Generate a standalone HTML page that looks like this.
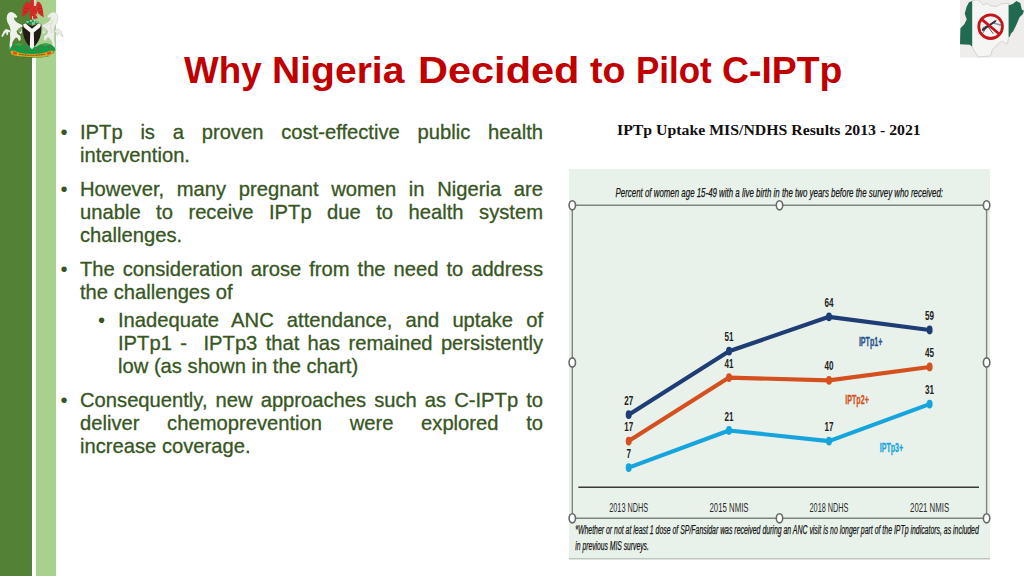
<!DOCTYPE html>
<html>
<head>
<meta charset="utf-8">
<title>Why Nigeria Decided to Pilot C-IPTp</title>
<style>
html,body{margin:0;padding:0;}
body{width:1024px;height:576px;position:relative;overflow:hidden;background:#fff;font-family:"Liberation Sans",sans-serif;}
.abs{position:absolute;}
#barL{left:0;top:0;width:32px;height:576px;background:#538135;}
#barR{left:36px;top:0;width:20px;height:576px;background:#a9d18e;}
.tw{top:48.5px;transform-origin:0 50%;height:44px;line-height:44px;font-size:36px;font-weight:bold;color:#c00000;white-space:nowrap;}
.ln{-webkit-text-stroke:0.3px #375623;position:absolute;left:80px;width:463px;height:24px;line-height:24px;font-size:20.2px;color:#375623;white-space:nowrap;text-align:justify;text-align-last:justify;}
.ln.last{text-align:left;text-align-last:left;}
.ln.sub{left:118px;width:425px;}
.bul{position:absolute;margin-left:1.5px;font-size:20.2px;line-height:24px;height:24px;color:#375623;}
#ctitle{left:617.3px;top:120px;height:20px;line-height:20px;font-family:"Liberation Serif",serif;font-weight:bold;font-size:14.4px;color:#111;white-space:nowrap;transform-origin:0 50%;transform:scaleX(1.098);}
</style>
</head>
<body>
<div class="abs" id="barL"></div>
<div class="abs" id="barR"></div>

<!--T0--><div class="abs tw" style="left:184.00px;transform:scaleX(1.0212)">Why</div><div class="abs tw" style="left:272.00px;transform:scaleX(1.0850)">Nigeria</div><div class="abs tw" style="left:417.50px;transform:scaleX(1.1526)">Decided</div><div class="abs tw" style="left:590.00px;transform:scaleX(1.0443)">to</div><div class="abs tw" style="left:635.50px;transform:scaleX(0.9707)">Pilot</div><div class="abs tw" style="left:721.50px;transform:scaleX(1.0370)">C-IPTp</div><!--T1-->

<div class="bul" style="left:59px;top:120px;">&#8226;</div>
<div class="ln" style="top:120px;">IPTp is a proven cost-effective public health</div>
<div class="ln last" style="top:143px;">intervention.</div>

<div class="bul" style="left:59px;top:177px;">&#8226;</div>
<div class="ln" style="top:177px;">However, many pregnant women in Nigeria are</div>
<div class="ln" style="top:200px;">unable to receive IPTp due to health system</div>
<div class="ln last" style="top:223px;">challenges.</div>

<div class="bul" style="left:59px;top:256.5px;">&#8226;</div>
<div class="ln" style="top:256.5px;">The consideration arose from the need to address</div>
<div class="ln last" style="top:279.5px;">the challenges of</div>

<div class="bul" style="left:96.5px;top:308px;">&#8226;</div>
<div class="ln sub" style="top:308px;">Inadequate ANC attendance, and uptake of</div>
<div class="ln sub" style="top:331px;">IPTp1 - &nbsp;IPTp3 that has remained persistently</div>
<div class="ln sub last" style="top:354px;">low (as shown in the chart)</div>

<div class="bul" style="left:59px;top:388px;">&#8226;</div>
<div class="ln" style="top:388px;">Consequently, new approaches such as C-IPTp to</div>
<div class="ln" style="top:411px;">deliver chemoprevention were explored to</div>
<div class="ln last" style="top:433.8px;">increase coverage.</div>

<div class="abs" id="ctitle">IPTp Uptake MIS/NDHS Results 2013 - 2021</div>

<!--CHART_START-->
<svg class="abs" style="left:0;top:0" width="1024" height="576" viewBox="0 0 1024 576" font-family="Liberation Sans, sans-serif">
<rect x="569" y="169" width="421" height="390" fill="#e9f2ea"/>
<rect x="569" y="558" width="421" height="1.5" fill="#bfc5bf"/>
<g fill="none" stroke="#7f847f" stroke-width="1.4"><path d="M572.3 205.3H986.6V518.3H572.3Z"/></g>
<path d="M578.3 487.2H979" stroke="#3a3a3a" stroke-width="1.5" fill="none"/>
<polyline points="628.7,467.6 729,430.5 829,441.1 929.6,404.1" fill="none" stroke="#16a4dc" stroke-width="4.2" stroke-linejoin="round" stroke-linecap="round"/>
<ellipse cx="628.7" cy="467.6" rx="3" ry="4.4" fill="#16a4dc"/>
<ellipse cx="729" cy="430.5" rx="3" ry="4.4" fill="#16a4dc"/>
<ellipse cx="829" cy="441.1" rx="3" ry="4.4" fill="#16a4dc"/>
<ellipse cx="929.6" cy="404.1" rx="3" ry="4.4" fill="#16a4dc"/>
<polyline points="628.7,441.1 729,377.6 829,380.3 929.6,367.0" fill="none" stroke="#d5501f" stroke-width="4.2" stroke-linejoin="round" stroke-linecap="round"/>
<ellipse cx="628.7" cy="441.1" rx="3" ry="4.4" fill="#d5501f"/>
<ellipse cx="729" cy="377.6" rx="3" ry="4.4" fill="#d5501f"/>
<ellipse cx="829" cy="380.3" rx="3" ry="4.4" fill="#d5501f"/>
<ellipse cx="929.6" cy="367.0" rx="3" ry="4.4" fill="#d5501f"/>
<polyline points="628.7,414.7 729,351.2 829,316.8 929.6,330.0" fill="none" stroke="#1e3d75" stroke-width="4.2" stroke-linejoin="round" stroke-linecap="round"/>
<ellipse cx="628.7" cy="414.7" rx="3" ry="4.4" fill="#1e3d75"/>
<ellipse cx="729" cy="351.2" rx="3" ry="4.4" fill="#1e3d75"/>
<ellipse cx="829" cy="316.8" rx="3" ry="4.4" fill="#1e3d75"/>
<ellipse cx="929.6" cy="330.0" rx="3" ry="4.4" fill="#1e3d75"/>
<g font-size="13.5" font-weight="bold" fill="#222" text-anchor="middle">
<text x="628.7" y="404.7" textLength="9" lengthAdjust="spacingAndGlyphs">27</text>
<text x="729" y="341.2" textLength="9" lengthAdjust="spacingAndGlyphs">51</text>
<text x="829" y="306.8" textLength="9" lengthAdjust="spacingAndGlyphs">64</text>
<text x="929.6" y="320.0" textLength="9" lengthAdjust="spacingAndGlyphs">59</text>
<text x="628.7" y="431.1" textLength="9" lengthAdjust="spacingAndGlyphs">17</text>
<text x="729" y="367.6" textLength="9" lengthAdjust="spacingAndGlyphs">41</text>
<text x="829" y="370.3" textLength="9" lengthAdjust="spacingAndGlyphs">40</text>
<text x="929.6" y="357.0" textLength="9" lengthAdjust="spacingAndGlyphs">45</text>
<text x="628.7" y="457.6" textLength="4.5" lengthAdjust="spacingAndGlyphs">7</text>
<text x="729" y="420.5" textLength="9" lengthAdjust="spacingAndGlyphs">21</text>
<text x="829" y="431.1" textLength="9" lengthAdjust="spacingAndGlyphs">17</text>
<text x="929.6" y="394.1" textLength="9" lengthAdjust="spacingAndGlyphs">31</text>
</g>
<g font-size="13" font-weight="bold" stroke-width="0.3">
<text x="858.9" y="345.5" fill="#2a4f90" stroke="#2a4f90" textLength="23.5" lengthAdjust="spacingAndGlyphs">IPTp1+</text>
<text x="845.3" y="404" fill="#d5501f" stroke="#d5501f" textLength="23.5" lengthAdjust="spacingAndGlyphs">IPTp2+</text>
<text x="879.7" y="452" fill="#16a4dc" stroke="#16a4dc" textLength="23.5" lengthAdjust="spacingAndGlyphs">IPTp3+</text>
</g>
<g font-size="12.5" fill="#2a2a2a" text-anchor="middle">
<text x="628.7" y="511.5" textLength="39" lengthAdjust="spacingAndGlyphs">2013 NDHS</text>
<text x="729" y="511.5" textLength="39" lengthAdjust="spacingAndGlyphs">2015 NMIS</text>
<text x="829" y="511.5" textLength="39" lengthAdjust="spacingAndGlyphs">2018 NDHS</text>
<text x="929.6" y="511.5" textLength="39" lengthAdjust="spacingAndGlyphs">2021 NMIS</text>
</g>
<g font-style="italic" fill="#151515" stroke="#151515" stroke-width="0.25">
<text x="615.5" y="196.5" font-size="13" textLength="327.5" lengthAdjust="spacingAndGlyphs">Percent of women age 15-49 with a live birth in the two years before the survey who received:</text>
<text x="575.3" y="534" font-size="12" textLength="403.5" lengthAdjust="spacingAndGlyphs">*Whether or not at least 1 dose of SP/Fansidar was received during an ANC visit is no longer part of the IPTp indicators, as included</text>
<text x="575.3" y="550" font-size="12" textLength="73.5" lengthAdjust="spacingAndGlyphs">in previous MIS surveys.</text>
</g>
<g fill="#fff" stroke="#666a66" stroke-width="1.6">
<ellipse cx="572.3" cy="205.3" rx="3.2" ry="4.6"/>
<ellipse cx="779.5" cy="205.3" rx="3.2" ry="4.6"/>
<ellipse cx="986.6" cy="205.3" rx="3.2" ry="4.6"/>
<ellipse cx="572.3" cy="362.5" rx="3.2" ry="4.6"/>
<ellipse cx="986.6" cy="362.5" rx="3.2" ry="4.6"/>
<ellipse cx="572.3" cy="518.3" rx="3.2" ry="4.6"/>
<ellipse cx="779.5" cy="518.3" rx="3.2" ry="4.6"/>
<ellipse cx="986.6" cy="518.3" rx="3.2" ry="4.6"/>
</g>
</svg>
<!--CHART_END-->
<!--ARMS_START-->
<div class="abs" style="left:32px;top:0;width:4px;height:57px;background:#8dba6c"></div>
<svg class="abs" style="left:0;top:0" width="68" height="62" viewBox="0 0 68 62">
<defs>
<g id="horse">
<path d="M10.8 12 L13 12.4 L15.5 14.200 L17.300 16.600 L16.300 18 L13.800 17.300 L14.500 20 L17 22.500 L20 24 L22.600 25.200 L22.600 27 L20 27.200 L21.800 29 L22 32.500 L20.500 34 L19 32 L18.200 29.500 L16.500 31 L17.500 34 L20.500 36 L20.700 40 L19 41 L17.500 38 L16 37.500 L14.500 39 L12.500 42 L12 46 L12.200 49.500 L9.800 49.500 L9.600 44 L10.200 39 L10 34 L10.500 30 L9.500 26 L7.500 22.500 L6.600 18.500 L7.200 15 L8.800 12.800 Z"/>
<path d="M9.800 30.300 L7 29.300 L5.400 29.200 L3.500 31.500 L1.300 36.200 L2.600 36.900 L4.800 33.500 L6 32.300 L6.700 35.400 L8 34.600 L8.300 32 L10.200 32.600 Z"/>
</g>
</defs>
<!-- eagle -->
<g fill="#d12b26">
<path d="M27.500 1.500 L25.500 2.800 L23.800 5 L22.500 9.500 L21.800 16.400 L24.500 15.500 L27 13.500 L29 10.500 L29.600 6 L28.800 2.200 Z"/>
<path d="M38 1.500 L40 2.800 L41.600 5 L42.900 10 L43.700 17.200 L41 15.800 L38.500 13.500 L36.800 10.500 L36.200 6 L37 2.200 Z"/>
<path d="M29 5.500 L31 0 L34.200 0 L36.500 5.500 L37 12 L37.600 18.600 L30 18.900 L29.500 12 Z"/>
</g>
<path d="M24 8 L28.500 8.500 M24 11.500 L27.500 12 M37.500 8.500 L42 8.500 M38.500 12 L42 12" stroke="#b01f1b" stroke-width="0.7" fill="none"/>
<rect x="33.900" y="0" width="2" height="6" fill="#f3dcd6"/>
<rect x="32" y="16" width="1.100" height="3" fill="#f0c8c0"/>
<path d="M36 13.500 L39.500 18.200 L38.700 18.500 L35.500 14.500 Z" fill="#d8c890"/>
<!-- wreath -->
<path d="M25.300 22 C27 19.800 37 19.800 38.800 22 L38.500 24 L25.800 24 Z" fill="#148f45"/>
<path d="M26.500 21.300 h2 v1.300 h-2 Z M29.800 20.300 h2 v1.300 h-2 Z M33.600 20.300 h2 v1.300 h-2 Z M31.800 22.400 h3.400 v1.100 h-3.400 Z M36.200 21.600 h1.600 v1.200 h-1.600 Z" fill="#e8f0e8"/>
<!-- horses -->
<use href="#horse" fill="#eff1eb"/>
<path d="M18.100 28.300 L21 28 L21.700 30.800 L19.800 32.200 L18.300 31 Z" fill="#7fa356"/>
<g transform="translate(64.500,0) scale(-1,1)"><use href="#horse" fill="#eceee8" stroke="#b8c2b4" stroke-width="0.45"/>
<path d="M18.100 28.300 L21 28 L21.700 30.800 L19.800 32.200 L18.300 31 Z" fill="#c5d6b4"/>
<path d="M12 20 L14 26 L13 33 M15 23 L18 26" stroke="#bcc6b6" stroke-width="0.5" fill="none"/>
</g>
<!-- base -->
<path d="M10 50 C10 46 14 43.200 19 43.200 L24 44.500 L28 47 L36 47 L40 44.500 L45 43.200 C50 43.200 55.300 46 55.300 50 L53 54 L12 54 Z" fill="#169a45"/>
<path d="M14 44.500 L19 43.200 L23 44.300 L20 46 Z M50.500 44.500 L45.500 43.200 L41.500 44.300 L44.500 46 Z" fill="#3aa84c"/>
<g fill="#b34a2c"><circle cx="14.800" cy="47.200" r="0.900"/><circle cx="21.800" cy="45.800" r="0.900"/><circle cx="26.500" cy="49" r="0.900"/><circle cx="37.500" cy="49" r="0.900"/><circle cx="42.500" cy="45.800" r="0.900"/><circle cx="49.500" cy="47.200" r="0.900"/></g>
<!-- shield -->
<path d="M22.700 25.500 C22.500 24 24 23.200 26 23.600 L32 26 L38 23.600 C40 23.200 41.600 24 41.400 25.500 C42 34 39.500 43 32 48.500 C24.500 43 22.100 34 22.700 25.500 Z" fill="#221b17"/>
<path d="M23 24.600 L25.400 23.300 L32 28.800 L38.600 23.300 L41 24.600 L40.200 27.300 L33.800 32.600 L34.200 47 L32 49.200 L29.800 47 L30.200 32.600 L23.800 27.300 Z" fill="#f5f5f1"/>
<!-- ribbon -->
<path d="M10.200 51 L14 50.400 L17 52 C24 54.600 40 54.600 47 52 L50 50.400 L54 51 L52.300 54 L48 56 C40 57.600 24 57.600 16 56 L11.800 54.500 Z" fill="#e0a220"/>
<path d="M13.300 51 L17 52.500 L16.500 55.200 L12.800 53.600 Z M50.700 51 L47 52.500 L47.500 55.200 L51.200 53.600 Z" fill="#d8501c"/>
<path d="M19 54.100 C26 55.700 38 55.700 45 54.100" stroke="#6f5216" stroke-width="1.100" fill="none" stroke-dasharray="1.100 0.450"/>
<path d="M12 54.700 C18 58.200 46 58.200 52 54.700 L48 56.600 C40 58.300 24 58.300 16 56.600 Z" fill="#14863c"/>
</svg>
<!--ARMS_END-->
<!--LOGO_START-->
<svg class="abs" style="left:960px;top:0" width="64" height="58" viewBox="0 0 64 58">
<rect x="0" y="0" width="64" height="57.6" fill="#efedeb"/>
<path d="M12.1 0.9 L15.1 0.0 L19.1 0.0 L22.8 4.8 L27.1 3.6 L31.4 5.9 L36.8 6.5 L41.1 3.8 L48.7 3.2 L48.7 36.4 L47.6 43.1 L45.4 43.6 L42.2 40.9 L36.8 45.2 L32.5 49.5 L30.4 56.0 L22.8 56.5 L18.5 57.1 L14.7 51.7 L12.1 46.5 Z" fill="#f5f5f3" stroke="#a9a9a5" stroke-width="0.4"/>
<path d="M12.1 0.9 L9.0 2.2 L6.7 6.5 L4.7 13.5 L6.7 19.4 L4.3 24.2 L0.4 28.2 L0.0 44.3 L9.7 44.7 L12.1 46.5 Z" fill="#216a52"/>
<path d="M48.7 5.2 L52.7 3.9 L56.4 1.1 L60.3 3.0 L61.8 9.5 L63.9 10.8 L62.9 14.0 L59.6 17.2 L56.4 24.8 L53.2 31.2 L51.0 33.4 L49.7 37.1 L48.7 36.4 Z" fill="#216a52"/>
<g fill="none" stroke-linecap="round">
<path d="M33.0 22.8 L40.3 25.0" stroke="#8494a8" stroke-width="1.5"/>
<path d="M22.8 29.9 L35.2 21.3" stroke="#2b2e34" stroke-width="1.9"/>
<path d="M26.6 25.8 L22.6 28.2 M26.0 27.4 L23.4 32.3 M28.2 26.9 L33.0 33.4 M31.4 24.2 L36.3 20.5" stroke="#2b2e34" stroke-width="0.8"/>
</g>
<circle cx="30.6" cy="26.7" r="11.8" fill="none" stroke="#c3151b" stroke-width="2.8"/>
<path d="M21.5 19.1 L39.6 34.3" stroke="#c3151b" stroke-width="2.8"/>
</svg>
<!--LOGO_END-->
</body>
</html>
